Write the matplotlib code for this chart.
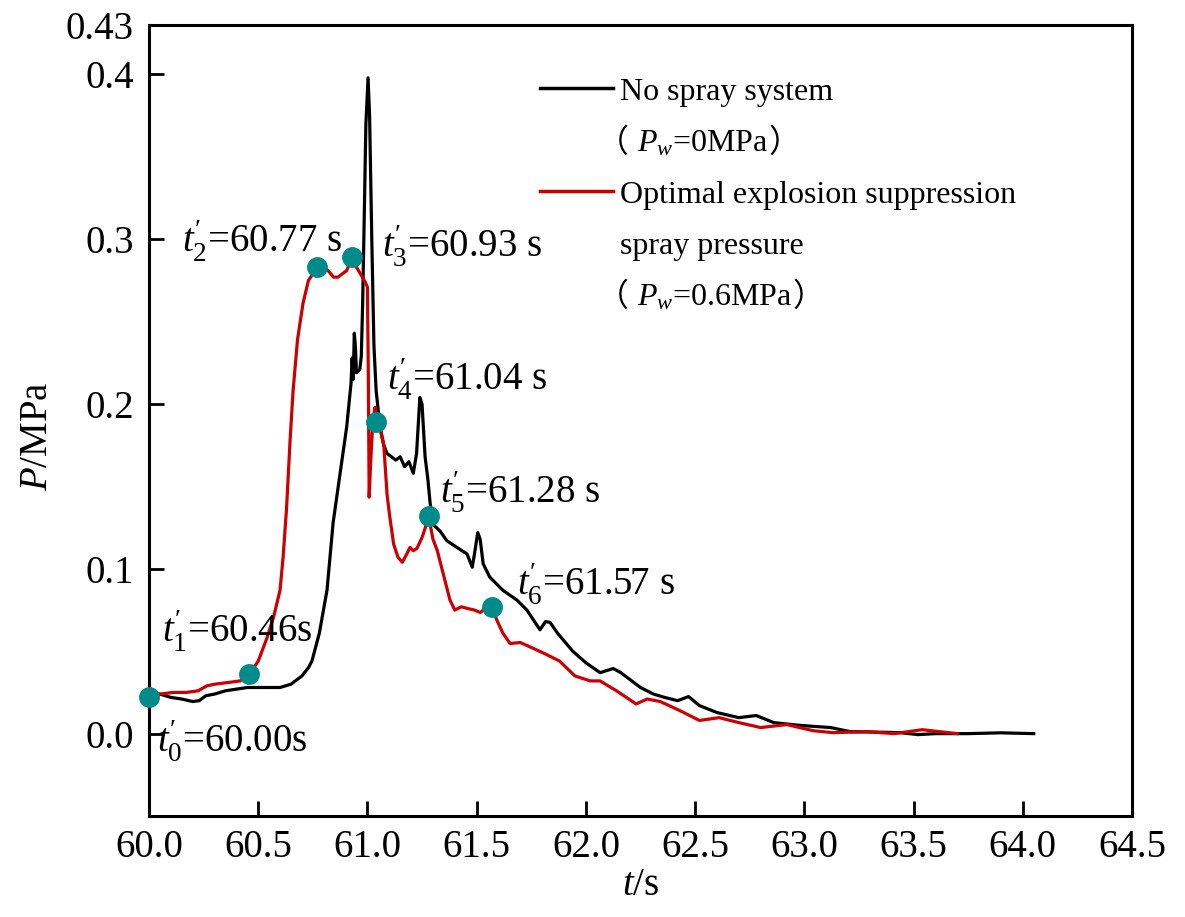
import matplotlib.pyplot as plt

plt.rcParams['font.family'] = ['Liberation Serif', 'DejaVu Sans']
plt.rcParams['mathtext.fontset'] = 'custom'
plt.rcParams['mathtext.rm'] = 'Liberation Serif'
plt.rcParams['mathtext.it'] = 'Liberation Serif:italic'

# pressure history without spray (Pw = 0 MPa)
t_nospray = [60.00, 60.05, 60.10, 60.15, 60.20, 60.23, 60.26, 60.30, 60.35, 60.40,
             60.45, 60.50, 60.55, 60.60, 60.65, 60.70, 60.73, 60.746, 60.78, 60.815,
             60.843, 60.875, 60.905, 60.925, 60.93, 60.935, 60.94, 60.945, 60.95, 60.965,
             60.972, 60.978, 60.985, 60.993, 61.003, 61.01, 61.02, 61.03, 61.04, 61.058,
             61.075, 61.09, 61.11, 61.13, 61.15, 61.17, 61.19, 61.21, 61.225, 61.24,
             61.25, 61.264, 61.277, 61.287, 61.30, 61.332, 61.364, 61.41, 61.456, 61.48,
             61.49, 61.505, 61.516, 61.53, 61.56, 61.62, 61.685, 61.73, 61.76, 61.79,
             61.815, 61.836, 61.87, 61.94, 62.00, 62.065, 62.125, 62.16, 62.20, 62.25,
             62.31, 62.36, 62.42, 62.47, 62.52, 62.60, 62.70, 62.78, 62.86, 62.98,
             63.12, 63.21, 63.30, 63.44, 63.52, 63.60, 63.75, 63.90, 64.05]
p_nospray = [0.024, 0.024, 0.022, 0.021, 0.0195, 0.020, 0.023, 0.024, 0.026, 0.027,
             0.028, 0.028, 0.028, 0.028, 0.030, 0.035, 0.040, 0.044, 0.061, 0.087,
             0.128, 0.158, 0.186, 0.2125, 0.228, 0.215, 0.243, 0.235, 0.219, 0.221,
             0.229, 0.260, 0.310, 0.370, 0.398, 0.375, 0.300, 0.235, 0.208, 0.186,
             0.175, 0.170, 0.168, 0.166, 0.168, 0.162, 0.165, 0.158, 0.170, 0.204,
             0.200, 0.168, 0.154, 0.140, 0.127, 0.123, 0.117, 0.113, 0.109, 0.101,
             0.109, 0.122, 0.118, 0.103, 0.095, 0.087, 0.081, 0.075, 0.069, 0.063,
             0.068, 0.0675, 0.061, 0.050, 0.043, 0.037, 0.0395, 0.037, 0.033, 0.028,
             0.024, 0.022, 0.020, 0.0225, 0.017, 0.0128, 0.0097, 0.011, 0.0067, 0.005,
             0.0037, 0.0012, 0.001, 0.0006, -0.0006, 0.0, 0.0, 0.0005, 0.0]

# pressure history with optimal spray (Pw = 0.6 MPa)
t_spray = [60.000, 60.003, 60.05, 60.11, 60.17, 60.225, 60.265, 60.30, 60.36, 60.417,
           60.46, 60.50, 60.54, 60.57, 60.60, 60.614, 60.63, 60.646, 60.66, 60.68,
           60.705, 60.73, 60.77, 60.80, 60.82, 60.845, 60.865, 60.885, 60.905, 60.93,
           60.95, 60.966, 60.99, 61.000, 61.004, 61.008, 61.015, 61.025, 61.035, 61.04,
           61.06, 61.075, 61.09, 61.103, 61.12, 61.14, 61.16, 61.18, 61.195, 61.21,
           61.227, 61.25, 61.265, 61.28, 61.30, 61.32, 61.347, 61.378, 61.40, 61.43,
           61.456, 61.49, 61.516, 61.548, 61.57, 61.593, 61.62, 61.653, 61.70, 61.76,
           61.82, 61.88, 61.95, 62.02, 62.065, 62.14, 62.23, 62.28, 62.34, 62.43,
           62.52, 62.61, 62.70, 62.80, 62.92, 63.04, 63.13, 63.29, 63.41, 63.54,
           63.62, 63.70]
p_spray = [0.003, 0.022, 0.024, 0.025, 0.025, 0.026, 0.029, 0.030, 0.031, 0.032,
           0.036, 0.044, 0.058, 0.0705, 0.087, 0.107, 0.137, 0.178, 0.2085, 0.239,
           0.261, 0.275, 0.283, 0.283, 0.281, 0.277, 0.277, 0.279, 0.281, 0.289,
           0.283, 0.2795, 0.274, 0.271, 0.220, 0.1435, 0.165, 0.190, 0.198, 0.189,
           0.184, 0.175, 0.145, 0.131, 0.115, 0.107, 0.104, 0.109, 0.113, 0.111,
           0.1125, 0.119, 0.125, 0.132, 0.118, 0.111, 0.097, 0.081, 0.075, 0.077,
           0.076, 0.075, 0.0735, 0.0766, 0.077, 0.0687, 0.061, 0.0547, 0.0553, 0.0517,
           0.048, 0.044, 0.035, 0.032, 0.032, 0.026, 0.018, 0.021, 0.0195, 0.014,
           0.008, 0.0097, 0.0067, 0.0037, 0.0055, 0.0018, 0.0006, 0.0012, 0.0, 0.0024,
           0.0012, 0.0]

# characteristic moments on the spray curve
t_key = [60.00, 60.46, 60.77, 60.93, 61.04, 61.28, 61.57]
p_key = [0.022, 0.036, 0.283, 0.289, 0.189, 0.132, 0.077]
key_units = ['s', 's', ' s', ' s', ' s', ' s', ' s']
key_text_pos = [(60.036, -0.0116), (60.06, 0.0553), (60.151, 0.292), (61.067, 0.289),
                (61.09, 0.208), (61.332, 0.1398), (61.685, 0.0839)]

fig = plt.figure(figsize=(11.85, 9.17), dpi=100)
ax = fig.add_axes([0.1257, 0.1101, 0.8296, 0.8626])
renderer = fig.canvas.get_renderer()

ax.plot(t_nospray, p_nospray, color='black', lw=2.3)
ax.plot(t_spray, p_spray, color='#cc0000', lw=2.3)
ax.plot(t_key, p_key, 'o', color='#008b8b', ms=14, zorder=5, clip_on=False)

for i, (t, (tx, ty), unit) in enumerate(zip(t_key, key_text_pos, key_units)):
    ax.text(tx, ty, r"$t_{%d}^{\prime}$=%.2f%s" % (i, t, unit), fontsize=28,
            ha='left', va='baseline')

ax.set_xlim(60.0, 64.5)
ax.set_ylim(-0.05, 0.43)
ax.set_xticks([60.0, 60.5, 61.0, 61.5, 62.0, 62.5, 63.0, 63.5, 64.0, 64.5])
ax.set_yticks([0.0, 0.1, 0.2, 0.3, 0.4, 0.43])
ax.set_yticklabels(['0.0', '0.1', '0.2', '0.3', '0.4', '0.43'])
ax.tick_params(direction='in', length=11, width=2, labelsize=28)
ax.tick_params(axis='x', pad=9)
ax.tick_params(axis='y', pad=11)
for s in ax.spines.values():
    s.set_linewidth(2.2)

ax.set_xlabel(r"$t$/s", fontsize=28)
ax.set_ylabel(r"$P$/MPa", fontsize=28)
ax.xaxis.set_label_coords(0.5, -0.065)
ax.yaxis.set_label_coords(-0.095, 0.48)


def put_line(x, y, pieces, size):
    # write pieces one after another on a common baseline; the
    # full-width brackets come from the CJK font
    if pieces[0] == '（':
        x -= 0.0234  # bracket glyph sits in the right part of its cell
    for s in pieces:
        fam = ['Noto Sans CJK SC'] if s in ('（', '）') else ['Liberation Serif']
        txt = ax.text(x, y, s, fontsize=size, family=fam, transform=ax.transAxes,
                      ha='left', va='baseline')
        x1 = txt.get_window_extent(renderer).x1
        x = ax.transAxes.inverted().transform((x1, 0))[0]


# legend drawn by hand so the handle sits on the first line of each entry
legend_rows = [
    ('black', [["No spray system"], ["（", r" $P_w$=0MPa ", "）"]]),
    ('#cc0000', [["Optimal explosion suppression"], ["spray pressure"],
                 ["（", r" $P_w$=0.6MPa ", "）"]]),
]
y = 0.905
for color, lines in legend_rows:
    ax.plot([0.398, 0.472], [y + 0.015, y + 0.015], color=color, lw=2.5,
            transform=ax.transAxes)
    for pieces in lines:
        put_line(0.479, y, pieces, 23)
        y -= 0.065

fig.savefig('out.png', dpi=100)
